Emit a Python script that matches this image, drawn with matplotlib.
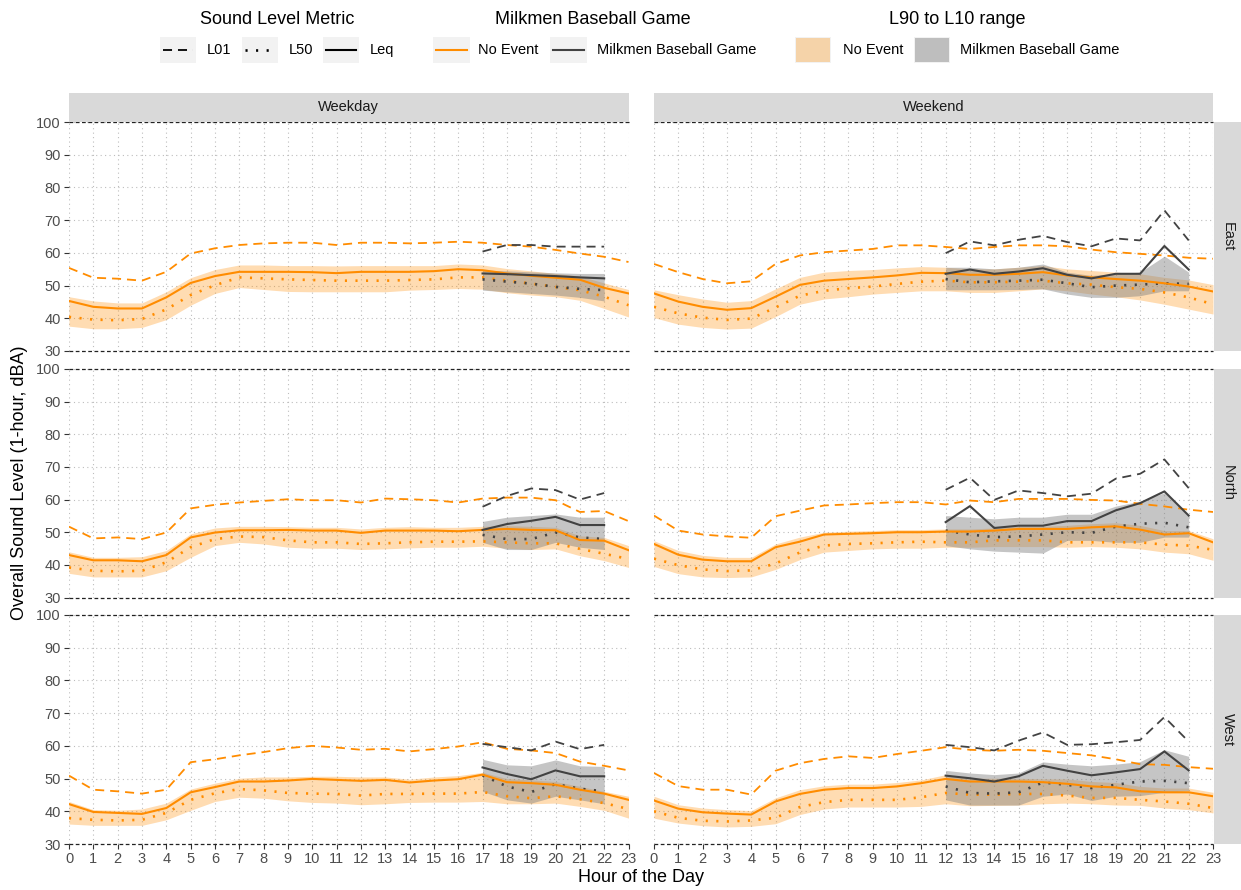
import matplotlib
matplotlib.use("Agg")
import matplotlib.pyplot as plt
from matplotlib.patches import Rectangle

plt.rcParams['font.family'] = ['Liberation Sans', 'DejaVu Sans']

# ---------------- data ----------------
HOURS = list(range(24))
WD_EVENT_HOURS = list(range(17, 23))
WE_EVENT_HOURS = list(range(12, 23))
DAY_TYPES = ['Weekday', 'Weekend']
LOCATIONS = ['East', 'North', 'West']
X_TICKS = list(range(24))
Y_TICKS = [30, 40, 50, 60, 70, 80, 90, 100]
METRIC_LABELS = ['L01', 'L50', 'Leq']
EVENT_LABELS = ['No Event', 'Milkmen Baseball Game']

# East - Weekday (No Event)
east_wd_leq = [45.3, 43.5, 43.0, 43.0, 46.4, 50.8, 52.9, 54.2, 54.2, 54.2, 54.1, 53.8, 54.2, 54.2, 54.2, 54.4, 55.0, 54.7, 53.7, 53.0, 52.4, 51.8, 49.3, 47.6]
east_wd_l50 = [40.4, 39.6, 39.4, 39.8, 42.7, 47.1, 50.1, 52.5, 52.2, 51.9, 51.7, 51.5, 51.5, 51.5, 51.7, 51.9, 52.5, 52.5, 51.5, 50.6, 49.6, 48.6, 46.6, 44.0]
east_wd_l01 = [55.4, 52.4, 52.1, 51.5, 54.2, 59.8, 61.4, 62.4, 62.9, 63.1, 63.1, 62.4, 63.1, 63.1, 62.9, 63.1, 63.4, 63.1, 62.4, 61.9, 60.9, 59.8, 58.8, 57.2]
east_wd_l90 = [37.6, 36.8, 36.8, 37.2, 39.6, 44.0, 47.6, 49.4, 48.8, 48.2, 48.1, 48.1, 48.1, 48.1, 48.6, 48.8, 49.1, 48.9, 47.8, 47.1, 46.6, 45.5, 43.0, 40.4]
east_wd_l10 = [46.6, 45.3, 44.7, 44.7, 48.1, 52.4, 54.9, 56.3, 56.3, 56.1, 56.1, 56.0, 56.1, 56.1, 56.1, 56.1, 56.6, 56.3, 55.2, 54.5, 53.7, 52.9, 50.8, 48.8]
# East - Weekday (Game)
east_wd_ev_leq = [53.7, 53.5, 53.2, 52.9, 52.5, 52.2]
east_wd_ev_l50 = [51.9, 51.2, 50.6, 49.6, 49.0, 48.6]
east_wd_ev_l01 = [60.4, 62.4, 62.4, 61.9, 61.9, 61.9]
east_wd_ev_l90 = [48.6, 48.1, 47.6, 47.1, 46.4, 45.3]
east_wd_ev_l10 = [54.7, 54.5, 54.2, 53.9, 53.7, 53.7]

# East - Weekend (No Event)
east_we_leq = [47.6, 45.1, 43.5, 42.6, 43.1, 46.6, 50.2, 51.5, 52.0, 52.5, 53.1, 53.9, 53.8, 53.3, 53.3, 53.6, 54.1, 53.1, 52.5, 52.0, 51.5, 50.7, 49.7, 48.2]
east_we_l50 = [43.5, 41.5, 40.2, 39.5, 39.9, 43.3, 46.9, 48.4, 49.2, 49.7, 50.5, 51.2, 51.5, 51.0, 51.0, 51.2, 51.5, 50.7, 50.3, 49.5, 49.0, 47.9, 46.4, 44.3]
east_we_l01 = [56.6, 54.1, 52.0, 50.7, 51.3, 56.6, 59.2, 60.2, 60.7, 61.2, 62.3, 62.3, 61.8, 61.2, 61.8, 62.3, 62.3, 62.0, 61.0, 60.2, 59.7, 59.2, 58.5, 58.2]
east_we_l90 = [40.2, 38.2, 37.2, 36.7, 37.0, 40.5, 44.3, 45.9, 46.6, 47.4, 47.9, 48.4, 48.4, 47.9, 47.9, 48.4, 49.0, 48.4, 47.4, 46.6, 45.6, 44.3, 42.8, 41.3]
east_we_l10 = [48.7, 47.2, 45.9, 44.9, 45.4, 49.0, 52.5, 54.1, 54.6, 54.9, 55.4, 55.8, 55.6, 55.1, 55.1, 55.6, 56.1, 55.1, 54.6, 54.1, 53.6, 52.5, 51.7, 50.3]
# East - Weekend (Game)
east_we_ev_leq = [53.6, 54.9, 53.6, 54.3, 55.3, 53.3, 52.2, 53.6, 53.6, 62.1, 54.9]
east_we_ev_l50 = [52.0, 51.0, 51.3, 51.5, 51.8, 50.7, 49.5, 50.0, 50.3, 50.7, 50.5]
east_we_ev_l01 = [59.9, 63.5, 62.3, 64.0, 65.2, 63.3, 62.0, 64.4, 63.8, 73.0, 63.8]
east_we_ev_l90 = [48.7, 48.7, 48.7, 48.8, 49.0, 47.4, 46.4, 46.4, 46.9, 48.4, 48.4]
east_we_ev_l10 = [55.6, 55.6, 55.1, 55.6, 56.6, 54.1, 53.1, 53.6, 54.1, 59.0, 54.1]

# North - Weekday (No Event)
north_wd_leq = [43.0, 41.4, 41.4, 41.1, 43.0, 48.4, 49.9, 50.6, 50.6, 50.7, 50.5, 50.5, 49.8, 50.5, 50.5, 50.5, 50.3, 50.7, 51.0, 50.7, 50.6, 47.6, 47.4, 44.5]
north_wd_l50 = [39.2, 38.2, 38.0, 38.2, 40.8, 45.4, 47.9, 48.7, 48.5, 47.5, 46.9, 46.9, 46.4, 46.6, 46.9, 47.1, 47.1, 47.2, 46.9, 46.6, 46.6, 44.9, 43.4, 41.8]
north_wd_l01 = [51.7, 48.1, 48.4, 47.9, 49.9, 57.3, 58.4, 59.1, 59.6, 60.1, 59.8, 59.8, 59.1, 60.3, 60.1, 59.8, 59.1, 60.3, 60.6, 60.6, 59.8, 56.2, 56.5, 53.4]
north_wd_l90 = [37.4, 36.3, 36.3, 36.3, 38.2, 42.3, 45.9, 46.9, 46.4, 45.4, 45.1, 45.1, 44.7, 44.9, 45.2, 45.4, 45.4, 45.7, 45.1, 44.7, 44.9, 42.8, 41.3, 39.2]
north_wd_l10 = [44.0, 42.3, 42.3, 42.5, 44.4, 49.5, 51.3, 51.8, 51.8, 51.7, 51.5, 51.5, 51.0, 51.5, 51.7, 51.5, 51.5, 51.8, 52.0, 51.8, 51.5, 48.9, 48.4, 45.9]
# North - Weekday (Game)
north_wd_ev_leq = [50.7, 52.5, 53.5, 54.7, 52.2, 52.2]
north_wd_ev_l50 = [49.2, 47.9, 47.9, 49.9, 48.4, 47.9]
north_wd_ev_l01 = [57.8, 61.1, 63.4, 62.9, 60.0, 62.0]
north_wd_ev_l90 = [46.9, 44.7, 44.7, 46.9, 45.4, 44.7]
north_wd_ev_l10 = [53.3, 54.6, 55.1, 55.6, 54.6, 54.6]

# North - Weekend (No Event)
north_we_leq = [46.4, 43.1, 41.6, 41.1, 41.1, 45.4, 47.1, 49.3, 49.5, 49.7, 50.0, 50.0, 50.2, 50.2, 50.5, 51.0, 51.0, 51.0, 51.5, 51.8, 50.8, 49.3, 49.7, 46.9]
north_we_l50 = [41.9, 39.9, 38.6, 38.1, 38.3, 40.4, 43.8, 45.9, 46.4, 46.6, 46.9, 47.1, 46.9, 46.9, 47.5, 47.5, 47.5, 46.9, 46.9, 46.9, 46.9, 46.2, 45.9, 44.6]
north_we_l01 = [55.1, 50.5, 49.3, 48.7, 48.3, 54.9, 56.6, 58.2, 58.5, 58.9, 59.2, 59.2, 58.5, 59.7, 59.2, 60.2, 60.2, 60.2, 59.9, 59.7, 58.7, 57.9, 56.9, 56.2]
north_we_l90 = [39.5, 37.3, 36.3, 36.1, 36.3, 38.6, 41.6, 43.9, 44.4, 44.9, 45.1, 45.1, 45.4, 45.4, 45.6, 45.6, 45.6, 45.4, 45.6, 45.4, 44.9, 43.9, 43.4, 41.4]
north_we_l10 = [47.4, 44.4, 42.9, 42.3, 42.3, 46.4, 48.5, 50.0, 50.3, 50.5, 50.8, 50.8, 51.0, 51.0, 51.3, 51.8, 51.8, 52.1, 52.6, 52.9, 52.1, 50.5, 50.5, 48.0]
# North - Weekend (Game)
north_we_ev_leq = [53.1, 58.0, 51.3, 52.0, 52.0, 53.4, 53.4, 56.7, 58.9, 62.5, 55.1]
north_we_ev_l50 = [50.5, 49.3, 48.5, 48.7, 49.3, 50.0, 49.8, 51.7, 52.6, 52.9, 51.5]
north_we_ev_l01 = [63.0, 66.7, 59.9, 62.8, 62.0, 61.0, 61.8, 66.4, 67.9, 72.3, 63.5]
north_we_ev_l90 = [45.9, 44.9, 44.2, 43.9, 43.6, 47.5, 47.5, 46.9, 46.9, 48.5, 48.5]
north_we_ev_l10 = [55.1, 54.6, 54.1, 54.6, 54.6, 55.5, 55.5, 58.0, 59.5, 62.1, 55.1]

# West - Weekday (No Event)
west_wd_leq = [42.2, 39.8, 39.5, 39.2, 41.0, 45.8, 47.4, 49.1, 49.1, 49.4, 49.9, 49.6, 49.3, 49.6, 48.8, 49.4, 49.8, 51.2, 48.9, 48.6, 48.1, 46.6, 45.4, 43.5]
west_wd_l50 = [37.9, 37.4, 37.2, 37.4, 39.5, 43.5, 45.5, 46.8, 46.4, 45.6, 45.4, 45.3, 44.8, 45.3, 45.3, 45.4, 45.4, 45.9, 44.6, 44.0, 44.6, 43.7, 42.5, 40.7]
west_wd_l01 = [50.9, 46.6, 46.1, 45.4, 46.6, 55.0, 55.9, 57.1, 58.1, 59.3, 60.0, 59.5, 58.8, 59.1, 58.3, 59.0, 59.8, 61.1, 59.1, 58.6, 57.8, 55.2, 53.9, 52.5]
west_wd_l90 = [36.1, 35.7, 35.7, 35.7, 37.4, 40.3, 43.0, 44.3, 44.0, 43.2, 42.7, 42.5, 42.0, 42.3, 42.7, 42.8, 42.8, 43.0, 42.3, 42.3, 42.5, 41.5, 40.3, 37.9]
west_wd_l10 = [43.0, 40.5, 40.3, 40.7, 42.5, 46.8, 48.6, 50.1, 50.5, 50.5, 50.7, 50.7, 50.5, 50.5, 49.8, 50.5, 50.9, 51.9, 50.0, 49.6, 49.1, 47.6, 46.1, 44.6]
# West - Weekday (Game)
west_wd_ev_leq = [53.4, 51.4, 49.8, 52.5, 50.7, 50.7]
west_wd_ev_l50 = [51.0, 47.6, 45.9, 48.3, 46.9, 46.1]
west_wd_ev_l01 = [60.6, 59.6, 58.6, 61.3, 59.0, 60.3]
west_wd_ev_l90 = [46.1, 43.5, 42.5, 44.6, 43.5, 42.3]
west_wd_ev_l10 = [55.9, 54.2, 53.9, 55.7, 53.9, 53.7]

# West - Weekend (No Event)
west_we_leq = [43.3, 40.8, 39.7, 39.3, 39.0, 43.0, 45.3, 46.6, 47.1, 47.1, 47.6, 48.6, 49.9, 49.1, 49.1, 49.1, 48.9, 48.4, 47.6, 47.3, 46.1, 45.8, 45.8, 44.6]
west_we_l50 = [40.0, 38.0, 37.1, 36.9, 37.2, 38.0, 41.3, 42.8, 43.5, 43.5, 43.5, 44.3, 45.6, 45.1, 45.1, 45.3, 45.3, 44.8, 44.1, 44.1, 43.5, 43.0, 42.3, 41.0]
west_we_l01 = [51.7, 47.7, 46.6, 46.6, 45.1, 52.4, 54.7, 56.0, 56.8, 56.3, 57.5, 58.5, 59.6, 58.8, 58.5, 58.8, 58.5, 57.8, 57.1, 55.9, 54.4, 54.2, 53.5, 53.0]
west_we_l90 = [37.9, 36.4, 35.6, 35.2, 35.4, 36.2, 39.0, 40.7, 41.3, 41.3, 41.3, 41.5, 42.3, 41.7, 41.8, 41.9, 42.3, 42.5, 42.3, 41.9, 41.8, 41.0, 40.5, 39.5]
west_we_l10 = [44.6, 42.0, 41.0, 40.5, 40.2, 44.1, 46.6, 47.8, 48.3, 48.3, 48.8, 49.6, 51.2, 50.1, 50.1, 50.1, 49.9, 49.9, 49.1, 48.8, 47.6, 47.1, 47.1, 45.8]
# West - Weekend (Game)
west_we_ev_leq = [50.9, 50.1, 49.1, 50.7, 53.9, 52.4, 51.0, 51.9, 52.9, 58.3, 52.5]
west_we_ev_l50 = [47.6, 45.6, 45.4, 45.8, 48.8, 48.1, 47.1, 48.1, 49.1, 49.3, 48.6]
west_we_ev_l01 = [60.3, 59.6, 58.6, 61.6, 64.1, 60.3, 60.5, 61.1, 61.8, 68.8, 61.3]
west_we_ev_l90 = [43.5, 41.9, 41.9, 41.9, 44.6, 45.3, 43.3, 44.6, 44.8, 45.8, 46.3]
west_we_ev_l10 = [52.5, 51.7, 51.2, 51.7, 55.1, 54.4, 53.9, 54.4, 55.2, 58.8, 56.8]

PANELS = {
    ('East', 'Weekday'): ((east_wd_leq, east_wd_l50, east_wd_l01, east_wd_l90, east_wd_l10),
                          (east_wd_ev_leq, east_wd_ev_l50, east_wd_ev_l01, east_wd_ev_l90, east_wd_ev_l10)),
    ('East', 'Weekend'): ((east_we_leq, east_we_l50, east_we_l01, east_we_l90, east_we_l10),
                          (east_we_ev_leq, east_we_ev_l50, east_we_ev_l01, east_we_ev_l90, east_we_ev_l10)),
    ('North', 'Weekday'): ((north_wd_leq, north_wd_l50, north_wd_l01, north_wd_l90, north_wd_l10),
                           (north_wd_ev_leq, north_wd_ev_l50, north_wd_ev_l01, north_wd_ev_l90, north_wd_ev_l10)),
    ('North', 'Weekend'): ((north_we_leq, north_we_l50, north_we_l01, north_we_l90, north_we_l10),
                           (north_we_ev_leq, north_we_ev_l50, north_we_ev_l01, north_we_ev_l90, north_we_ev_l10)),
    ('West', 'Weekday'): ((west_wd_leq, west_wd_l50, west_wd_l01, west_wd_l90, west_wd_l10),
                          (west_wd_ev_leq, west_wd_ev_l50, west_wd_ev_l01, west_wd_ev_l90, west_wd_ev_l10)),
    ('West', 'Weekend'): ((west_we_leq, west_we_l50, west_we_l01, west_we_l90, west_we_l10),
                          (west_we_ev_leq, west_we_ev_l50, west_we_ev_l01, west_we_ev_l90, west_we_ev_l10)),
}
EVENT_HOURS = {'Weekday': WD_EVENT_HOURS, 'Weekend': WE_EVENT_HOURS}

# ---------------- style ----------------
W, H = 1241, 890
ORANGE = '#FF8C00'
DARK = '#424242'
GREY_FILL = '#7F7F7F'
LS_DASH = (0, (5, 3.3))
LS_DOT = (0, (0.8, 3.2))
COLS = [(69, 628.5), (654, 1213)]
ROWS = [(122, 351), (369, 597.5), (615, 844)]

fig = plt.figure(figsize=(W / 100, H / 100), dpi=100)


def rect(x0, y0, x1, y1):
    return [x0 / W, 1 - y1 / H, (x1 - x0) / W, (y1 - y0) / H]


def draw_series(ax, x, vals, color, lw_scale=1.0):
    leq, l50, l01 = vals[0], vals[1], vals[2]
    ax.plot(x, l01, color=color, lw=1.3, ls=LS_DASH, zorder=4)
    ax.plot(x, l50, color=color, lw=1.9, ls=LS_DOT, zorder=4)
    ax.plot(x, leq, color=color, lw=1.5, ls='-', zorder=5)


for r, loc in enumerate(LOCATIONS):
    for c, day in enumerate(DAY_TYPES):
        x0, x1 = COLS[c]
        y0, y1 = ROWS[r]
        ax = fig.add_axes(rect(x0, y0, x1, y1))
        base, ev = PANELS[(loc, day)]
        evh = EVENT_HOURS[day]
        ax.fill_between(HOURS, base[3], base[4], color=ORANGE, alpha=0.3, lw=0, zorder=2)
        ax.fill_between(evh, ev[3], ev[4], color=GREY_FILL, alpha=0.45, lw=0, zorder=3)
        draw_series(ax, HOURS, base, ORANGE)
        draw_series(ax, evh, ev, DARK)
        for yv in (30, 100):
            ax.axhline(yv, color='#222222', lw=0.9, ls=(0, (3, 2)), clip_on=False, zorder=6)
        ax.set_xlim(0, 23)
        ax.set_ylim(30, 100)
        ax.set_xticks(X_TICKS)
        ax.set_yticks(Y_TICKS)
        ax.grid(True, color='#BDBDBD', lw=0.8, ls=(0, (1, 3)))
        ax.set_axisbelow(True)
        for s in ax.spines.values():
            s.set_visible(False)
        ax.tick_params(axis='both', colors='#333333', length=3.5, width=0.8,
                       labelsize=10.5, labelcolor='#4D4D4D', pad=2.5)
        if c != 0:
            ax.tick_params(axis='y', left=False, labelleft=False)
        if r != len(LOCATIONS) - 1:
            ax.tick_params(axis='x', bottom=False, labelbottom=False)

# overlay for strips, titles and legend
ov = fig.add_axes([0, 0, 1, 1])
ov.set_xlim(0, W)
ov.set_ylim(H, 0)
ov.axis('off')
ov.patch.set_alpha(0)

STRIP = '#D9D9D9'
for c, day in enumerate(DAY_TYPES):
    x0, x1 = COLS[c]
    ov.add_patch(Rectangle((x0, 92.5), x1 - x0, 29.5, color=STRIP, lw=0))
    ov.text((x0 + x1) / 2, 107, day, ha='center', va='center', fontsize=10.5, color='#1A1A1A')
for r, loc in enumerate(LOCATIONS):
    y0, y1 = ROWS[r]
    ov.add_patch(Rectangle((1213.5, y0), W - 1213.5, y1 - y0, color=STRIP, lw=0))
    ov.text(1227.5, (y0 + y1) / 2, loc, ha='center', va='center', rotation=-90,
            fontsize=10.5, color='#1A1A1A')

ov.text(641, 878, 'Hour of the Day', ha='center', va='center', fontsize=13, color='black')
ov.text(20, 483, 'Overall Sound Level (1-hour, dBA)', ha='center', va='center',
        rotation=90, fontsize=13, color='black')

# legend
KEY_BG = '#F2F2F2'
KY0, KY1 = 37, 63
KYC = 50
ov.text(277, 20, 'Sound Level Metric', ha='center', va='center', fontsize=13)
ov.text(593, 20, 'Milkmen Baseball Game', ha='center', va='center', fontsize=13)
ov.text(957, 20, 'L90 to L10 range', ha='center', va='center', fontsize=13)

metric_styles = [(LS_DASH, 1.3), (LS_DOT, 1.9), ('-', 1.5)]
for (kx, lx), lab, (ls, lw) in zip([(160, 207), (242, 289), (323, 370)], METRIC_LABELS, metric_styles):
    ov.add_patch(Rectangle((kx, KY0), 36, KY1 - KY0, color=KEY_BG, lw=0))
    ov.plot([kx + 3, kx + 33], [KYC, KYC], color='black', ls=ls, lw=lw)
    ov.text(lx, KYC, lab, ha='left', va='center', fontsize=10.5)

for (kx, lx), lab, col in zip([(433, 478), (550, 597)], EVENT_LABELS, [ORANGE, DARK]):
    ov.add_patch(Rectangle((kx, KY0), 37, KY1 - KY0, color=KEY_BG, lw=0))
    ov.plot([kx + 3, kx + 34], [KYC, KYC], color=col, lw=1.5)
    ov.text(lx, KYC, lab, ha='left', va='center', fontsize=10.5)

for (kx, lx), lab, col, al in zip([(795, 843), (914, 960)], EVENT_LABELS,
                                  [ORANGE, GREY_FILL], [0.3, 0.45]):
    ov.add_patch(Rectangle((kx, KY0), 36, KY1 - KY0, color=KEY_BG, lw=0))
    ov.add_patch(Rectangle((kx + 1, KY0 + 1), 34, KY1 - KY0 - 2, color=col, alpha=al, lw=0))
    ov.text(lx, KYC, lab, ha='left', va='center', fontsize=10.5)

fig.savefig('out.png', dpi=100)
